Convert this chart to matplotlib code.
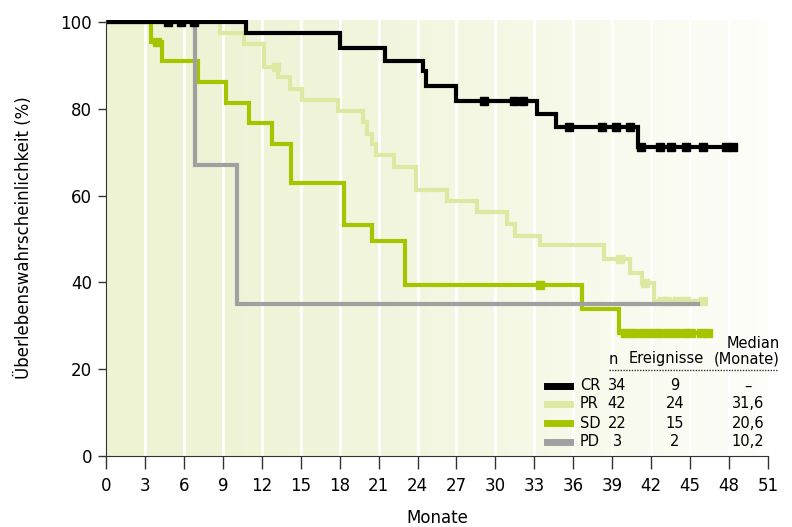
import matplotlib.pyplot as plt
import numpy as np
from matplotlib.lines import Line2D

# --- data ---
cr_t = [0, 10.8, 18.0, 21.5, 24.4, 24.65, 27.0, 33.2, 34.7, 41.0]
cr_s = [100, 97.5, 93.9, 91.0, 88.7, 85.3, 81.9, 78.7, 75.7, 71.3]
cr_end = 48.4
cr_cens = [4.8, 5.8, 6.8, 29.1, 31.4, 32.1, 35.7, 38.2, 39.3, 40.4,
           41.2, 42.7, 43.5, 44.7, 46.0, 47.8, 48.3]

pr_t = [0, 8.8, 10.6, 12.2, 13.25, 14.2, 15.1, 17.85, 19.8, 20.1, 20.5, 20.8,
        22.2, 23.9, 26.3, 28.6, 30.9, 31.5, 33.4, 38.4, 40.4, 41.3, 42.2]
pr_s = [100, 97.4, 94.9, 89.7, 87.4, 84.6, 82.0, 79.6, 76.9, 74.3, 71.8, 69.3,
        66.6, 61.3, 58.8, 56.3, 53.5, 50.7, 48.6, 45.5, 42.2, 39.9, 35.6]
pr_end = 46.0
pr_cens = [13.1, 39.6, 41.5, 42.8, 43.2, 44.0, 44.7, 46.0]

sd_t = [0, 3.5, 4.3, 7.06, 9.25, 11.0, 12.8, 14.25, 18.3, 20.5, 23.0, 36.7, 39.5]
sd_s = [100, 95.5, 90.9, 86.2, 81.4, 76.8, 72.0, 62.8, 53.2, 49.6, 39.4, 33.8, 28.4]
sd_end = 46.5
sd_cens = [3.9, 33.4, 40.0, 40.6, 41.3, 41.9, 42.5, 43.2, 43.8, 44.5,
           45.1, 45.8, 46.4]

pd_t = [0, 6.86, 10.07]
pd_s = [100, 67.0, 34.95]
pd_end = 45.6
pd_cens = []

groups = ["CR", "PR", "SD", "PD"]
n_pat = ["34", "42", "22", "3"]
events = ["9", "24", "15", "2"]
medians = ["–", "31,6", "20,6", "10,2"]
colors = {"CR": "#000000", "PR": "#dde9a2", "SD": "#a6c500", "PD": "#a0a0a0"}

xticks = list(range(0, 52, 3))
yticks = [0, 20, 40, 60, 80, 100]

W, H = 792, 527
fig = plt.figure(figsize=(W / 100, H / 100), dpi=100)
ax = fig.add_axes([106 / W, 1 - 456 / H, (768 - 106) / W, (456 - 20) / H])
ax.set_xlim(0, 51)
ax.set_ylim(0, 100.46)

# background: light green fading to white
xs = np.linspace(0, 1, 300)
tt = xs ** 1.6
c0 = np.array([238, 243, 212]) / 255
c1 = np.array([254, 254, 250]) / 255
grad = (c0[None, :] * (1 - tt[:, None]) + c1[None, :] * tt[:, None])[None, :, :]
ax.imshow(grad, extent=(0, 51, 0, 100.46), aspect="auto", zorder=0)
for x in xticks[1:-1]:
    ax.axvline(x, color="white", lw=2.0, zorder=1)


def km(t, s, end, cens, col, z):
    tx = list(t) + [end]
    sy = list(s) + [s[-1]]
    ax.step(tx, sy, where="post", color=col, lw=3.0, zorder=z,
            solid_joinstyle="miter")
    if cens:
        cs = [s[np.searchsorted(t, c, side="right") - 1] for c in cens]
        ax.plot(cens, cs, ls="none", marker="s", ms=5.5, color=col,
                mec=col, zorder=z)


km(pr_t, pr_s, pr_end, pr_cens, colors["PR"], 3)
km(sd_t, sd_s, sd_end, sd_cens, colors["SD"], 4)
km(pd_t, pd_s, pd_end, pd_cens, colors["PD"], 5)
km(cr_t, cr_s, cr_end, cr_cens, colors["CR"], 6)

ax.set_xticks(xticks)
ax.set_yticks(yticks)
ax.tick_params(axis="x", length=9, width=1, pad=6, labelsize=12, color="#333333")
ax.tick_params(axis="y", length=6, width=1, pad=4, labelsize=12, color="#333333")
for sp in ["top", "right"]:
    ax.spines[sp].set_visible(False)
for sp in ["left", "bottom"]:
    ax.spines[sp].set_color("#333333")
    ax.spines[sp].set_zorder(7)
ax.set_xlabel("Monate", fontsize=12, labelpad=10)
ax.set_ylabel("Überlebenswahrscheinlichkeit (%)", fontsize=12, labelpad=20)


# --- legend table ---
def px(x, y):
    return x / W, 1 - y / H


fs = 10.5
fig.text(*px(780, 343), "Median", fontsize=fs, ha="right", va="center")
fig.text(*px(609, 359), "n", fontsize=fs, ha="left", va="center")
fig.text(*px(666, 359), "Ereignisse", fontsize=fs, ha="center", va="center")
fig.text(*px(780, 359), "(Monate)", fontsize=fs, ha="right", va="center")
fig.add_artist(Line2D([609 / W, 777 / W], [1 - 370 / H] * 2, color="#333333",
                      lw=1.0, ls=(0, (1, 1))))
row_y = [386, 404, 423, 442]
for g, n, e, m, y in zip(groups, n_pat, events, medians, row_y):
    fig.add_artist(Line2D([547 / W, 570 / W], [1 - y / H] * 2,
                          color=colors[g], lw=5))
    fig.text(*px(580, y), g, fontsize=fs, ha="left", va="center")
    fig.text(*px(617, y), n, fontsize=fs, ha="center", va="center")
    fig.text(*px(675, y), e, fontsize=fs, ha="center", va="center")
    fig.text(*px(748, y), m, fontsize=fs, ha="center", va="center")

fig.savefig("out.png", dpi=100)
